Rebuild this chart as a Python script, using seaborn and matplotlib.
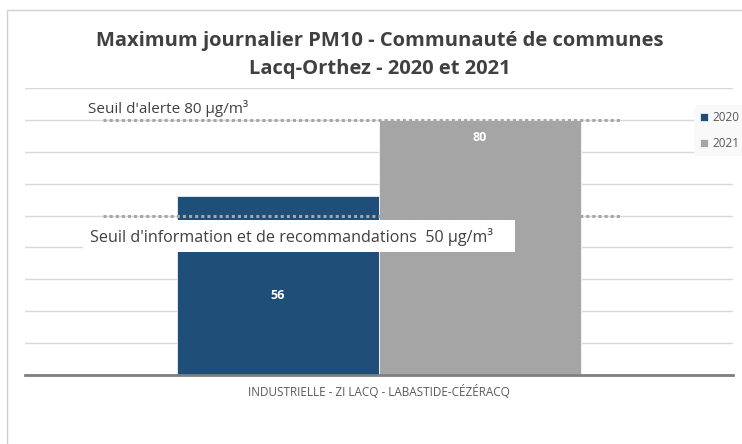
import matplotlib
matplotlib.use("Agg")
import matplotlib.pyplot as plt
import seaborn as sns
import pandas as pd
from matplotlib.patches import Rectangle

sites = ["INDUSTRIELLE - ZI LACQ - LABASTIDE-CÉZÉRACQ"]
years = ["2020", "2021"]
values = [56, 80]
label_y = [25, 74.6]
thresholds = [80, 50]
threshold_labels = ["Seuil d'alerte 80 µg/m³", "Seuil d'information et de recommandations  50 µg/m³"]
title = "Maximum journalier PM10 - Communauté de communes\nLacq-Orthez - 2020 et 2021"
colors = ["#1f4e79", "#a5a5a5"]

df = pd.DataFrame({"site": sites * len(years), "year": years, "value": values})

sns.set_theme(style="white")
plt.rcParams["font.family"] = ["Open Sans", "DejaVu Sans"]

fig = plt.figure(figsize=(7.42, 4.44), dpi=100)
ax = fig.add_axes([25/742, 1-375/444, 708/742, 287/444])

sns.barplot(data=df, x="site", y="value", hue="year", palette=colors, width=0.57,
            saturation=1, ax=ax, edgecolor="white", linewidth=0.5, zorder=2)

ax.set_xlim(-0.5, 0.5)
ax.set_ylim(0, 90)
ax.set_yticks(range(10, 91, 10))
ax.yaxis.grid(True, color="#d9d9d9", linewidth=1, zorder=0)
ax.set_axisbelow(True)
ax.tick_params(axis="y", left=False, labelleft=False)
ax.tick_params(axis="x", bottom=False, labelsize=8.5, labelcolor="#595959", pad=1)
for s in ["top", "right", "left"]:
    ax.spines[s].set_visible(False)
ax.spines["bottom"].set_color("#7f7f7f")
ax.spines["bottom"].set_linewidth(2)
ax.set_xlabel("")
ax.set_ylabel("")

# value labels
bars = [p for p in ax.patches if p.get_height() > 0]
for p, ly in zip(bars, label_y):
    ax.text(p.get_x() + p.get_width()/2, ly, f"{p.get_height():.0f}", ha="center", va="center",
            color="white", fontsize=9, fontweight="bold", zorder=5)

# threshold lines
for t in thresholds:
    ax.plot([-0.39, 0.34], [t, t], linestyle=(0, (1, 1)), color="#a6a6a6", linewidth=2.2, zorder=3,
            solid_capstyle="butt", dash_capstyle="butt")

ax.text(-0.411, 83.7, threshold_labels[0], ha="left", va="center", fontsize=11, color="#404040", zorder=6)
ax.add_patch(Rectangle((-0.418, 38.6), 0.61, 10.0, facecolor="white", edgecolor="none", zorder=5.5))
ax.text(-0.408, 43.3, threshold_labels[1], ha="left", va="center", fontsize=11.6, color="#404040", zorder=6)

leg = ax.legend(loc="upper left", bbox_to_anchor=(0.937, 0.96), frameon=True, fontsize=8.5,
                handlelength=0.7, handleheight=0.7, handletextpad=0.3, labelspacing=1.1,
                borderpad=0.5, facecolor="#f9f9f9", edgecolor="none", framealpha=1)
for txt in leg.get_texts():
    txt.set_color("#595959")

fig.text(0.512, 1-55/444, title, ha="center", va="center", fontsize=14.5, fontweight="bold",
         color="#404040", linespacing=1.5)

fig.patches.append(Rectangle((7/742, -0.1), 1.2, 1.1 - 10/444, transform=fig.transFigure,
                             facecolor="none", edgecolor="#d0d0d0", linewidth=1))

fig.savefig("out.png", dpi=100)
